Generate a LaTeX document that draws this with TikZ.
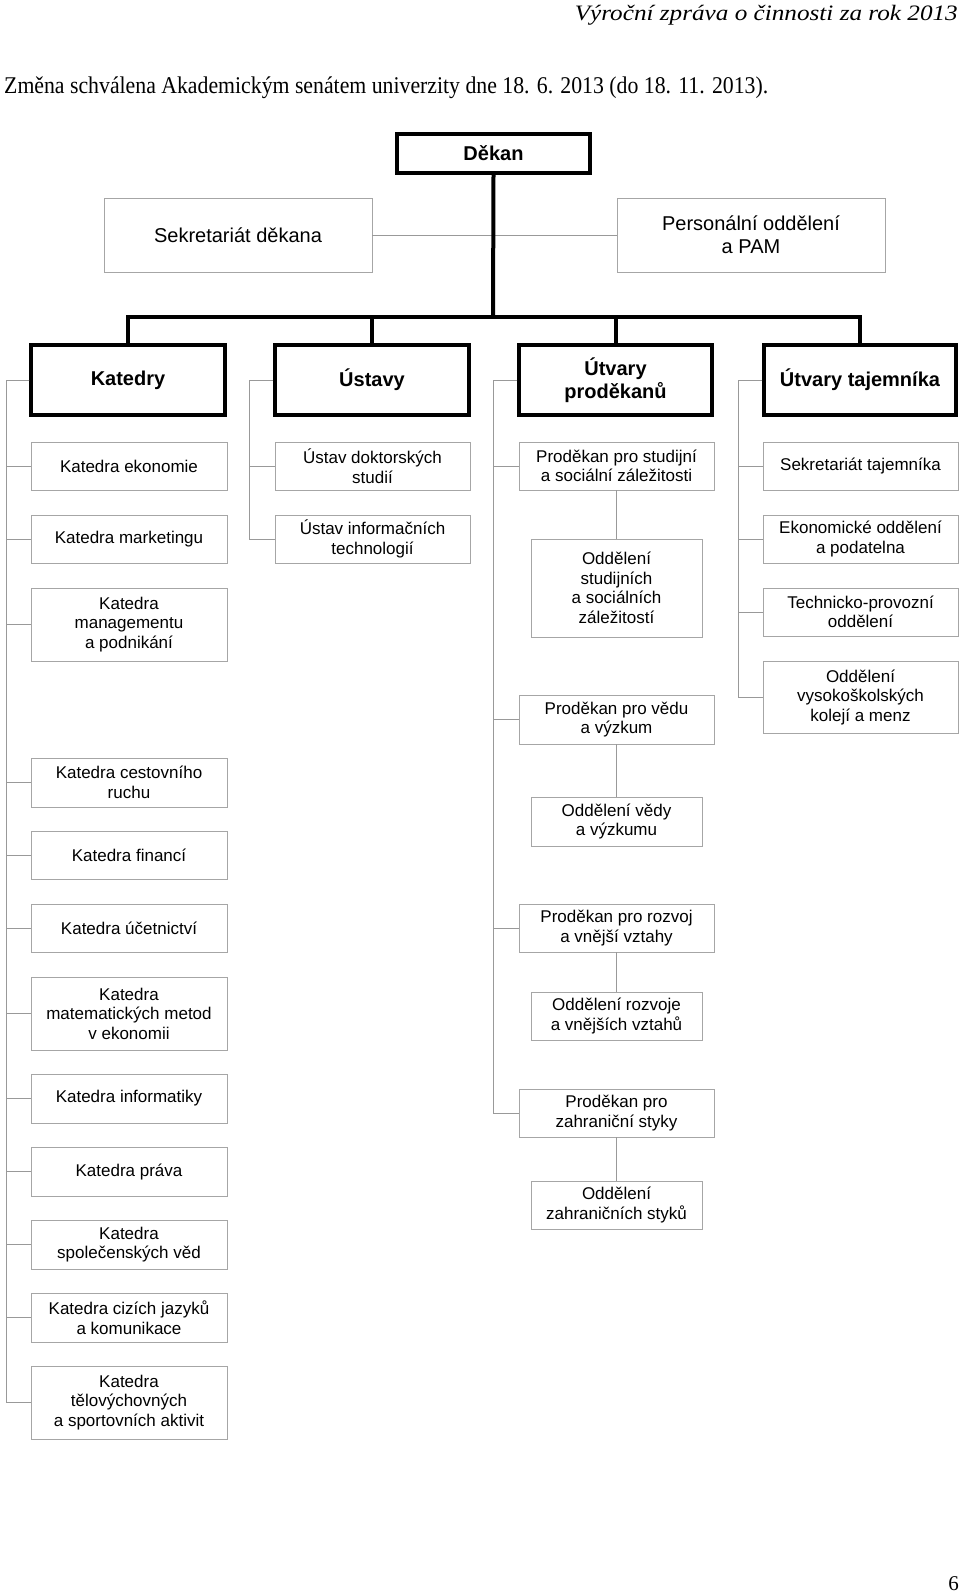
\documentclass[tikz,border=0pt]{standalone}
\usepackage{fontspec}
\usepackage{graphicx}
\setmainfont{Liberation Sans}
\newfontfamily\timesf{Liberation Serif}
\tikzset{
  lbox/.style={draw=black!35, line width=0.9pt, fill=white, align=center,
    font=\fontsize{17}{19.5}\selectfont, inner sep=0pt},
  mbox/.style={draw=black!35, line width=0.9pt, fill=white, align=center,
    font=\fontsize{20}{23}\selectfont, inner sep=0pt},
  hbox/.style={draw=black, line width=4pt, fill=white, align=center,
    font=\fontsize{20}{23}\selectfont\bfseries, inner sep=0pt},
  link/.style={draw=black!40, line width=0.9pt},
  buslink/.style={draw=black, line width=4pt},
  plain/.style={inner sep=0pt}
}
\newcommand\ob[7][lbox]{\node[#1,minimum width={(#5-#3)*1pt},minimum height={(#6-#4)*1pt}] (#2) at ({(#3+#5)/2},{(#4+#6)/2}) {#7};}
\begin{document}
\begin{tikzpicture}[x=1pt,y=-1pt]
\useasboundingbox (0,0) rectangle (960,1592);
% header texts
\node[plain, anchor=base east] (hdr) at (958,21) {\resizebox{383pt}{\height}{\timesf\itshape\fontsize{22}{24}\selectfont Výroční zpráva o činnosti za rok 2013}};
\node[plain, anchor=base west] (note) at (4,94) {\resizebox{764pt}{\height}{\timesf\fontsize{24}{26}\selectfont Změna schválena Akademickým senátem univerzity dne 18. 6. 2013 (do 18. 11. 2013).}};
\node[plain, anchor=base east] (pg) at (959,1590) {\timesf\fontsize{21}{23}\selectfont 6};

% thin line between secretariats (behind dean line)
\ob[mbox]{sekr}{104}{198}{372}{272}{Sekretariát děkana}
\ob[mbox]{pers}{617}{198}{885}{272}{Personální oddělení\\a PAM}
\draw[link] (sekr.east) -- (pers.west);

% top level
\ob[hbox]{dekan}{397}{134}{590}{173}{Děkan}
\ob[hbox]{katedry}{31}{345}{225}{415}{Katedry}
\ob[hbox]{ustavy}{275}{345}{469}{415}{Ústavy}
\ob[hbox]{prodekani}{519}{345}{712}{415}{Útvary\\proděkanů}
\ob[hbox]{tajemnik}{764}{345}{956}{415}{Útvary tajemníka}

\coordinate (bus) at (493,317);
\draw[buslink] (dekan.south) -- (bus);
\draw[buslink] (katedry.north) |- (bus) -| (tajemnik.north);
\draw[buslink] (ustavy.north) -- (ustavy.north |- bus);
\draw[buslink] (prodekani.north) -- (prodekani.north |- bus);

% Katedry
\ob{k1}{31}{442}{227}{490}{Katedra ekonomie}
\ob{k2}{31}{515}{227}{563}{Katedra marketingu}
\ob{k3}{31}{588}{227}{661}{Katedra\\managementu\\a podnikání}
\ob{k4}{31}{758}{227}{807}{Katedra cestovního\\ruchu}
\ob{k5}{31}{831}{227}{879}{Katedra financí}
\ob{k6}{31}{904}{227}{952}{Katedra účetnictví}
\ob{k7}{31}{977}{227}{1050}{Katedra\\matematických metod\\v ekonomii}
\ob{k8}{31}{1074}{227}{1123}{Katedra informatiky}
\ob{k9}{31}{1147}{227}{1196}{Katedra práva}
\ob{k10}{31}{1220}{227}{1269}{Katedra\\společenských věd}
\ob{k11}{31}{1293}{227}{1342}{Katedra cizích jazyků\\a komunikace}
\ob{k12}{31}{1366}{227}{1439}{Katedra\\tělovýchovných\\a sportovních aktivit}
\coordinate (kl) at (6,380);
\foreach \n in {k1,k2,k3,k4,k5,k6,k7,k8,k9,k10,k11,k12}
  \draw[link] (katedry.west) -- (kl) |- (\n.west);

% Ustavy
\ob{u1}{275}{442}{470}{490}{Ústav doktorských\\studií}
\ob{u2}{275}{515}{470}{563}{Ústav informačních\\technologií}
\coordinate (ul) at (249,380);
\foreach \n in {u1,u2}
  \draw[link] (ustavy.west) -- (ul) |- (\n.west);

% Prodekani
\ob{p1}{519}{442}{714}{490}{Proděkan pro studijní\\a sociální záležitosti}
\ob{o1}{531}{539}{702}{637}{Oddělení\\studijních\\a sociálních\\záležitostí}
\ob{p2}{519}{695}{714}{744}{Proděkan pro vědu\\a výzkum}
\ob{o2}{531}{797}{702}{846}{Oddělení vědy\\a výzkumu}
\ob{p3}{519}{904}{714}{952}{Proděkan pro rozvoj\\a vnější vztahy}
\ob{o3}{531}{992}{702}{1040}{Oddělení rozvoje\\a vnějších vztahů}
\ob{p4}{519}{1089}{714}{1137}{Proděkan pro\\zahraniční styky}
\ob{o4}{531}{1181}{702}{1229}{Oddělení\\zahraničních styků}
\coordinate (pl) at (493,380);
\foreach \n in {p1,p2,p3,p4}
  \draw[link] (prodekani.west) -- (pl) |- (\n.west);
\draw[link] (p1.south) -- (o1.north);
\draw[link] (p2.south) -- (o2.north);
\draw[link] (p3.south) -- (o3.north);
\draw[link] (p4.south) -- (o4.north);

% Tajemnik
\ob{t1}{763}{442}{958}{490}{Sekretariát tajemníka}
\ob{t2}{763}{515}{958}{563}{Ekonomické oddělení\\a podatelna}
\ob{t3}{763}{588}{958}{636}{Technicko-provozní\\oddělení}
\ob{t4}{763}{661}{958}{733}{Oddělení\\vysokoškolských\\kolejí a menz}
\coordinate (tl) at (738,380);
\foreach \n in {t1,t2,t3,t4}
  \draw[link] (tajemnik.west) -- (tl) |- (\n.west);
\end{tikzpicture}
\end{document}
